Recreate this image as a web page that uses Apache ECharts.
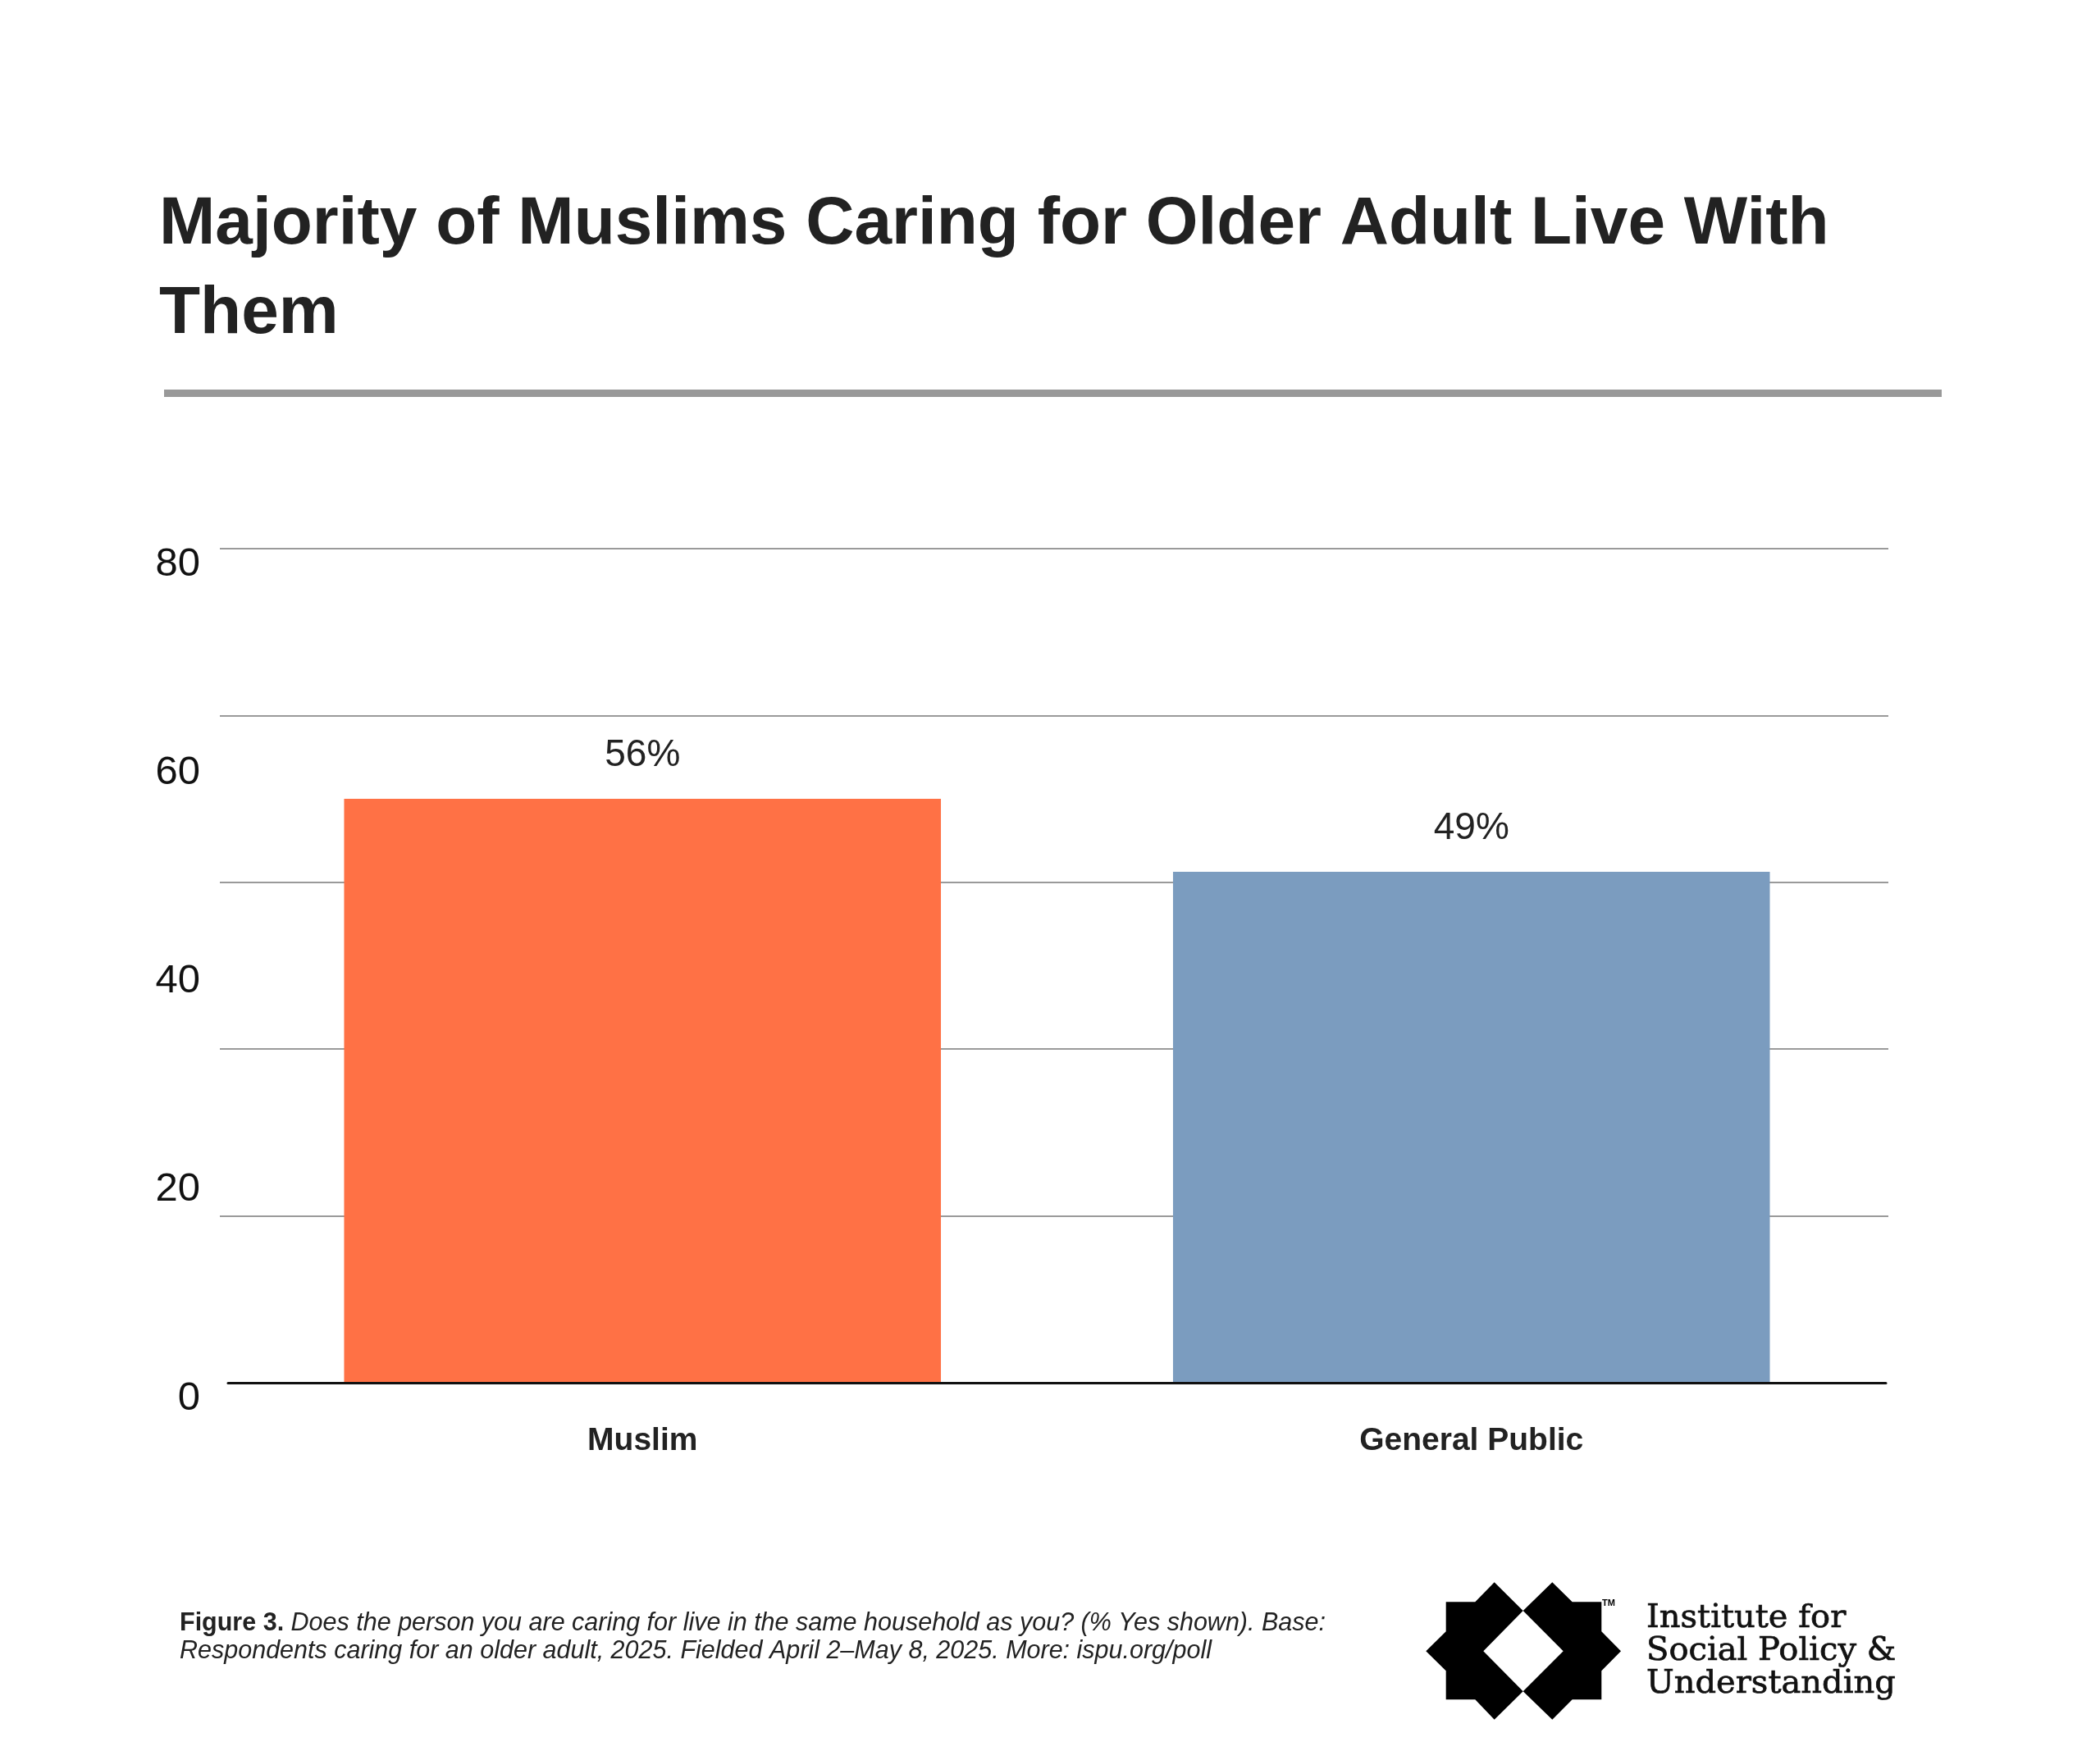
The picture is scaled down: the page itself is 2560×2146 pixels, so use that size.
<!DOCTYPE html>
<html>
<head>
<meta charset="utf-8">
<script src="https://cdn.jsdelivr.net/npm/echarts@6/dist/echarts.min.js"></script>
<style>
  html, body { margin: 0; padding: 0; background: #ffffff; }
  #chart { width: 2560px; height: 2146px; }
</style>
</head>
<body>
<div id="chart"></div>
<script>
// ---- data ----
const titleText = 'Majority of Muslims Caring for Older Adult Live With\nThem';
const categories = ['Muslim', 'General Public'];
const values = [56, 49];
const yTickLabels = [0, 20, 40, 60, 80];
const footnoteBold = 'Figure 3.';
const footnoteLine1 = 'Does the person you are caring for live in the same household as you? (% Yes shown). Base:';
const footnoteLine2 = 'Respondents caring for an older adult, 2025. Fielded April 2\u2013May 8, 2025. More: ispu.org/poll';
const logoLines = ['Institute for', 'Social Policy &', 'Understanding'];

// ---- styles ----
const barColors = ['#FF7145', '#7B9CBF'];
const GRID_GRAY = '#9a9a9a';
const SANS = "'Liberation Sans', Arial, sans-serif";
const SERIF = "'DejaVu Serif', serif";

const chart = echarts.init(document.getElementById('chart'), null, { renderer: 'canvas' });

const logoOuter = [
  [1821.7,1929.3],[1856.7,1964],[1892.3,1929.3],[1916.7,1953.3],[1952.3,1953.3],
  [1952.3,1989.3],[1976,2013.3],[1952.3,2037.3],[1952.3,2072.3],[1916.7,2072.3],
  [1892.3,2096.7],[1856.7,2062.3],[1821.7,2096.7],[1798.3,2072.3],[1762.7,2072.3],
  [1762.7,2037.3],[1738.3,2013.3],[1762.7,1989.3],[1762.7,1953.3],[1798.3,1953.3]
];
const logoInner = [[1856.7,1964],[1905.7,2013.3],[1856.7,2062.3],[1808.3,2013.3]];

function logoText(text, y) {
  return {
    type: 'text',
    style: {
      x: 2007, y: y, text: text, font: '40px ' + SERIF,
      fill: '#111111', stroke: '#111111', lineWidth: 0.7, verticalAlign: 'middle'
    },
    silent: true
  };
}

const option = {
  backgroundColor: '#ffffff',
  animation: false,
  title: {
    text: titleText,
    left: 189,
    top: 215,
    textStyle: {
      fontFamily: SANS,
      fontSize: 82,
      fontWeight: 'bold',
      color: '#222222',
      lineHeight: 109
    }
  },
  grid: [
    // bars + baseline
    { left: 278, right: 261, top: 669, bottom: 460, containLabel: false },
    // horizontal gridlines
    { left: 268, right: 258, top: 669, bottom: 460, containLabel: false },
    // tick labels (set a little lower than the gridlines, as in the original)
    { left: 270, right: 258, top: 688, bottom: 441, containLabel: false }
  ],
  xAxis: [
    {
      type: 'category',
      gridIndex: 0,
      data: categories,
      axisLine: { show: true, lineStyle: { color: '#111111', width: 3 } },
      axisTick: { show: false },
      axisLabel: {
        margin: 52,
        fontFamily: SANS,
        fontSize: 39,
        fontWeight: 'bold',
        color: '#222222'
      },
      z: 5
    },
    { type: 'category', gridIndex: 1, data: categories, show: false },
    { type: 'category', gridIndex: 2, data: categories, show: false }
  ],
  yAxis: [
    {
      type: 'value', gridIndex: 0,
      min: 0, max: 80, interval: 16,
      show: false
    },
    {
      type: 'value', gridIndex: 1,
      min: 0, max: 80, interval: 16,
      axisLine: { show: false },
      axisTick: { show: false },
      axisLabel: { show: false },
      splitLine: {
        show: true,
        lineStyle: {
          color: ['rgba(0,0,0,0)', GRID_GRAY, GRID_GRAY, GRID_GRAY, GRID_GRAY, GRID_GRAY],
          width: 2
        }
      }
    },
    {
      type: 'value', gridIndex: 2,
      min: 0, max: 80, interval: 20,
      axisLine: { show: false },
      axisTick: { show: false },
      splitLine: { show: false },
      axisLabel: {
        show: true,
        margin: 26,
        fontFamily: SANS,
        fontSize: 49,
        color: '#111111',
        formatter: function (v) { return yTickLabels.indexOf(v) >= 0 ? String(v) : ''; }
      }
    }
  ],
  series: [{
    type: 'bar',
    xAxisIndex: 0,
    yAxisIndex: 0,
    barWidth: '72%',
    z: 3,
    data: values.map(function (v, i) {
      return { value: v, itemStyle: { color: barColors[i] } };
    }),
    label: {
      show: true,
      position: 'top',
      distance: 30,
      formatter: '{c}%',
      fontFamily: SANS,
      fontSize: 46,
      color: '#222222'
    }
  }],
  graphic: [
    {
      type: 'rect',
      shape: { x: 200, y: 475, width: 2167, height: 9 },
      style: { fill: '#999999' },
      silent: true
    },
    {
      type: 'text',
      style: {
        x: 219, y: 1980,
        text: '{b|' + footnoteBold + '}{i| ' + footnoteLine1 + '}',
        verticalAlign: 'middle',
        rich: {
          b: { fontFamily: SANS, fontSize: 30.5, fontWeight: 'bold', fill: '#222222' },
          i: { fontFamily: SANS, fontSize: 30.5, fontStyle: 'italic', fill: '#222222' }
        }
      },
      silent: true
    },
    {
      type: 'text',
      style: {
        x: 219, y: 2014,
        text: footnoteLine2,
        verticalAlign: 'middle',
        font: 'italic 30.5px ' + SANS,
        fill: '#222222'
      },
      silent: true
    },
    {
      type: 'polygon',
      shape: { points: logoOuter },
      style: { fill: '#000000' },
      silent: true
    },
    {
      type: 'polygon',
      shape: { points: logoInner },
      style: { fill: '#ffffff' },
      silent: true
    },
    {
      type: 'text',
      style: { x: 1953, y: 1955, text: 'TM', font: 'bold 11px ' + SANS, fill: '#000000', verticalAlign: 'middle' },
      silent: true
    },
    logoText(logoLines[0], 1974),
    logoText(logoLines[1], 2014),
    logoText(logoLines[2], 2054)
  ]
};

chart.setOption(option);
</script>
</body>
</html>
